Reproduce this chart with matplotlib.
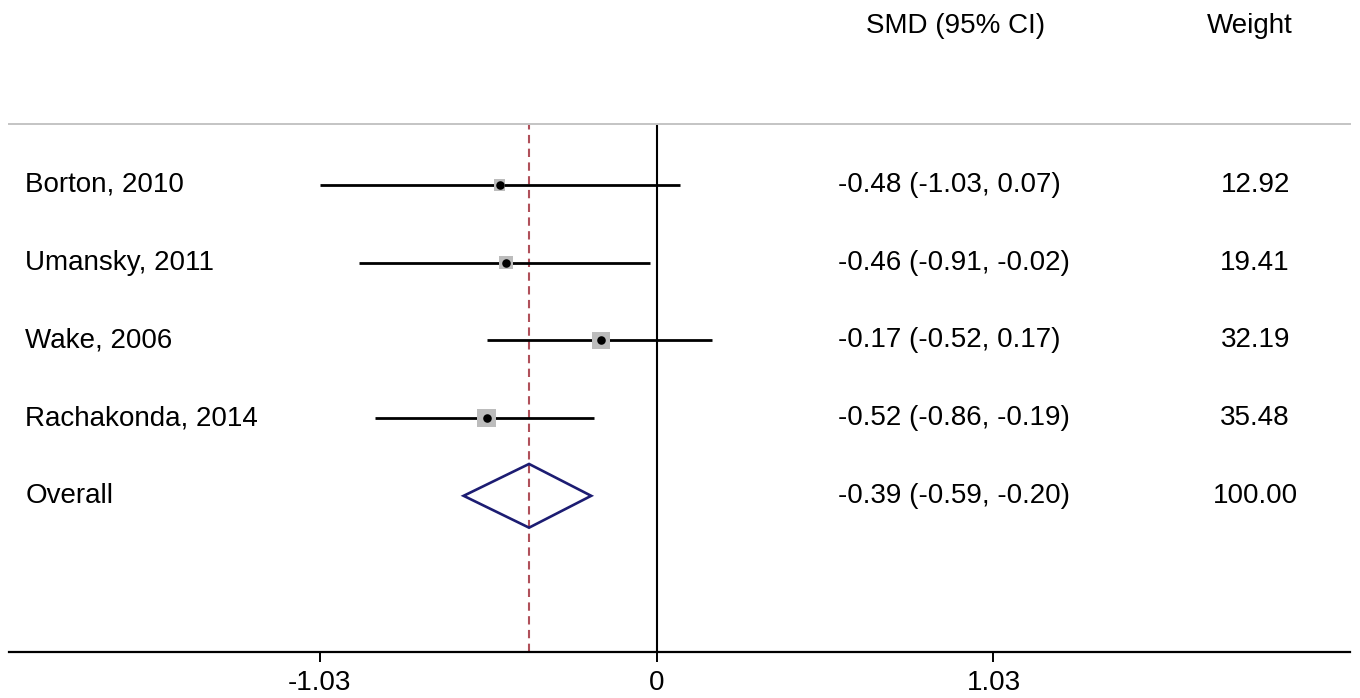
"""Forest plot: SMD (95% CI) with study weights."""
import matplotlib
matplotlib.use("Agg")
import matplotlib.pyplot as plt
from matplotlib.patches import Polygon

studies = ["Borton, 2010", "Umansky, 2011", "Wake, 2006", "Rachakonda, 2014"]
smd = [-0.48, -0.46, -0.17, -0.52]
lo = [-1.03, -0.91, -0.52, -0.86]
hi = [0.07, -0.02, 0.17, -0.19]
weight = [12.92, 19.41, 32.19, 35.48]
overall_label = "Overall"
overall = [-0.39, -0.59, -0.20]   # estimate, lower, upper
overall_weight = 100.00
ticks = [-1.03, 0, 1.03]

plt.rcParams.update({"font.family": ["Liberation Sans", "DejaVu Sans"], "font.size": 20})
W, H = 1360, 698
fig = plt.figure(figsize=(W/100, H/100), dpi=100)
ax = fig.add_axes([9/W, (H-652)/H, (1350-9)/W, (652-124)/H])
ax.set_xlim(-1.98, 2.12)
ax.set_ylim(7.01, 0.215)

rows = list(range(1, len(studies)+1))
orow = len(studies) + 1
x_lab, x_ci, x_w = -1.93, 0.556, 1.83

ax.hlines(rows, lo, hi, color="black", lw=2.0, zorder=2)
ax.scatter(smd, rows, s=[4.9*w for w in weight], marker="s", color="#bcbcbc", zorder=3, linewidths=0)
ax.scatter(smd, rows, s=38, marker="o", color="black", zorder=4, linewidths=0)

e, l, u = overall
ax.add_patch(Polygon([(l, orow), (e, orow-0.41), (u, orow), (e, orow+0.41)], closed=True,
                     fill=False, ec="#1c1c72", lw=1.9, zorder=3))
ax.axvline(0, color="black", lw=1.5, zorder=1)
ax.axvline(e, color="#b0505a", lw=1.5, ls=(0, (4, 2.6)), zorder=1)

for r, s, m, a, b, w in zip(rows, studies, smd, lo, hi, weight):
    ax.text(x_lab, r, s, ha="left", va="center")
    ax.text(x_ci, r, f"{m:.2f} ({a:.2f}, {b:.2f})", ha="left", va="center")
    ax.text(x_w, r, f"{w:.2f}", ha="center", va="center")
ax.text(x_lab, orow, overall_label, ha="left", va="center")
ax.text(x_ci, orow, f"{e:.2f} ({l:.2f}, {u:.2f})", ha="left", va="center")
ax.text(x_w, orow, f"{overall_weight:.2f}", ha="center", va="center")
ax.text(0.914, -1.05, "SMD (95% CI)", ha="center", va="center", clip_on=False)
ax.text(1.815, -1.05, "Weight", ha="center", va="center", clip_on=False)

for sp in ["left", "right"]:
    ax.spines[sp].set_visible(False)
ax.spines["top"].set_color("#c4c4c4"); ax.spines["top"].set_linewidth(1.4)
ax.spines["bottom"].set_linewidth(1.6)
ax.set_yticks([])
ax.set_xticks(ticks)
ax.set_xticklabels([f"{t:g}" for t in ticks])
ax.tick_params(axis="x", length=7, width=1.4, pad=6, labelsize=20)

fig.savefig("out.png", dpi=100)
